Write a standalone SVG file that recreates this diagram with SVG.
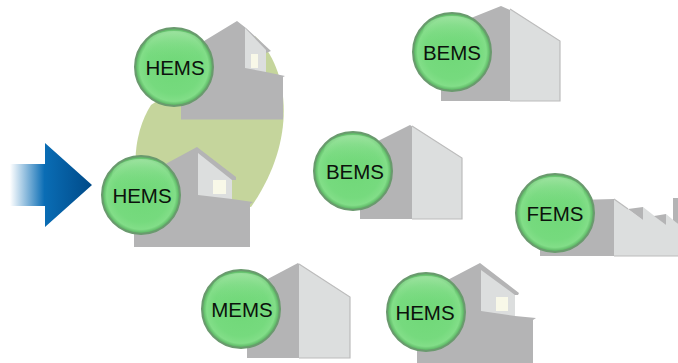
<svg xmlns="http://www.w3.org/2000/svg" width="678" height="363" viewBox="0 0 678 363">
<style>
.d{fill:#b4b4b5}
.l{fill:#dcdede}
.e{fill:none;stroke:#bcbcbc;stroke-width:1.2}
.w{fill:#f8f8e8}
.b{fill:url(#btn);stroke:#6a9a6e;stroke-width:2}
.h{fill:url(#hi)}
.t{font-family:"Liberation Sans",Arial,sans-serif;font-size:20.5px;fill:#0c120c;text-anchor:middle}
</style>
<defs>
<linearGradient id="arr" gradientUnits="userSpaceOnUse" x1="10" y1="0" x2="92" y2="0">
<stop offset="0" stop-color="#fff"/><stop offset="0.42" stop-color="#0a6db5"/><stop offset="1" stop-color="#004a88"/>
</linearGradient>
<radialGradient id="btn" cx="0.5" cy="0.5" r="0.5">
<stop offset="0" stop-color="#70d878"/><stop offset="0.7" stop-color="#76da7e"/><stop offset="0.88" stop-color="#82de88"/><stop offset="0.96" stop-color="#62bc6a"/><stop offset="1" stop-color="#5f9a64"/>
</radialGradient>
<linearGradient id="hi" x1="0" y1="0" x2="0" y2="1">
<stop offset="0" stop-color="#a4e4a6" stop-opacity="0.75"/><stop offset="1" stop-color="#70d878" stop-opacity="0"/>
</linearGradient>
<g id="button">
<circle class="b" r="39"/>
<ellipse class="h" cy="-20" rx="29" ry="16"/>
</g>
</defs>

<path id="area" d="M255 36C290 68 298 140 251 207L140 190C130 160 138 125 151 105Z" fill="#c5d59c"/>

<g id="arrow"><path d="M10 164H45V143L92 185L45 227V206H10Z" fill="url(#arr)"/></g>

<g id="node-hems-top">
<path class="d" d="M181 119.500V55L237 21L246 28L271 51L266 53V72L285 76L283 77V119.500Z"/>
<path class="l" d="M245 28L266 50V72L245 68Z"/>
<rect class="w" x="251" y="54" width="7" height="14"/>
<use href="#button" x="174" y="67"/>
<text class="t" x="175" y="75">HEMS</text>
</g>

<g id="node-hems-left">
<path class="d" d="M134 247V181L197 147L236 177L236 180L232 180V199L253 202L250 204V247Z"/>
<path class="l" d="M198 153L232 180V199L198 195Z"/>
<rect class="w" x="213" y="180" width="13" height="14"/>
<use href="#button" x="141" y="195"/>
<text class="t" x="142" y="203">HEMS</text>
</g>

<g id="node-bems-top">
<path class="d" d="M441 101V30L501 6L510 10V101Z"/>
<path class="l" d="M510 9L560 41V101H510Z"/>
<path class="e" d="M510 9L560 41V101H510"/>
<use href="#button" x="452" y="52"/>
<text class="t" x="452" y="60">BEMS</text>
</g>

<g id="node-bems-mid">
<path class="d" d="M360 219V150L410 125L413 127V219Z"/>
<path class="l" d="M412 126L462 158V219H412Z"/>
<path class="e" d="M412 126L462 158V219H412"/>
<use href="#button" x="353" y="171"/>
<text class="t" x="355" y="179">BEMS</text>
</g>

<g id="node-fems">
<path class="d" d="M540 256V201L614 199V256Z"/>
<path class="l" d="M614 199L643 220V207L666 225V214L678 224V256H614Z"/>
<path class="d" d="M628 209L643 207V220ZM654 216L666 214V225ZM673 220V198H678V224Z"/>
<path class="e" d="M614 199L628 209M614 256H678"/>
<use href="#button" x="555" y="213"/>
<text class="t" x="555" y="221">FEMS</text>
</g>

<g id="node-mems">
<path class="d" d="M247 358V290L298 263L300 265V358Z"/>
<path class="l" d="M299 264L350 297V358H299Z"/>
<path class="e" d="M299 264L350 297V358H299"/>
<use href="#button" x="241" y="309"/>
<text class="t" x="242" y="317">MEMS</text>
</g>

<g id="node-hems-bottom">
<path class="d" d="M417 363V296L480 263L519 293L518 295H515V316L536 318L533 320V363Z"/>
<path class="l" d="M481 270L515 295V316L481 311Z"/>
<rect class="w" x="496" y="297" width="12" height="14"/>
<use href="#button" x="426" y="312"/>
<text class="t" x="425" y="320">HEMS</text>
</g>
</svg>
